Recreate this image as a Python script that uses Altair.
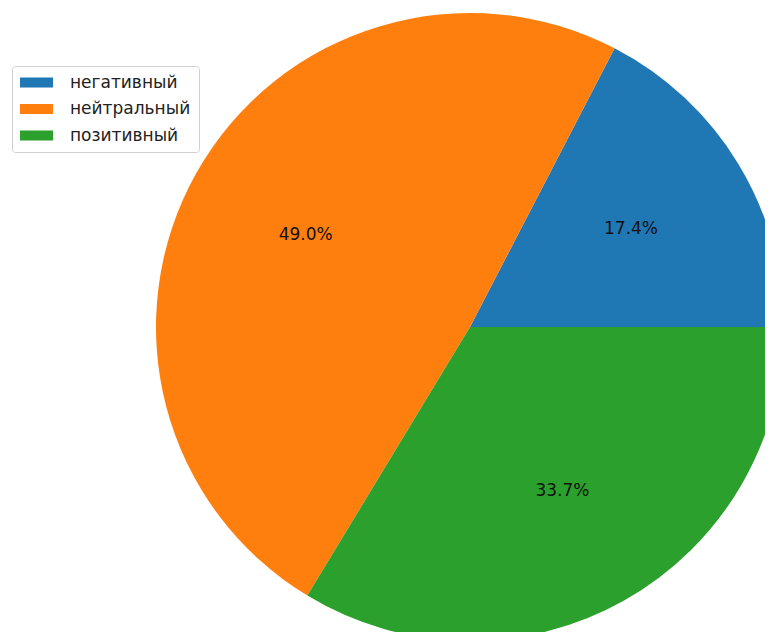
import math
import altair as alt
import pandas as pd

categories = ["негативный", "нейтральный", "позитивный"]
shares = [17.4, 49.0, 33.7]
labels = ["17.4%", "49.0%", "33.7%"]
colors = ["#1f77b4", "#ff7f0e", "#2ca02c"]
draw_order = [3, 2, 1]  # clockwise from 3 o'clock: green, orange, blue

df = pd.DataFrame({"cat": categories, "val": shares, "lab": labels, "ord": draw_order})

CX, CY, R = 462, 319, 314

theta = alt.Theta("val:Q", stack=True,
                  scale=alt.Scale(range=[math.pi / 2, math.pi / 2 + 2 * math.pi]))
color = alt.Color(
    "cat:N",
    scale=alt.Scale(domain=categories, range=colors),
    legend=alt.Legend(
        title=None, orient="none", legendX=4, legendY=58,
        symbolType="M-2,-0.6L2,-0.6L2,0.6L-2,0.6Z", symbolSize=272,
        symbolOffset=8, symbolStrokeWidth=0, symbolOpacity=1,
        labelFont="DejaVu Sans", labelFontSize=17, labelColor="#222222",
        labelOffset=25, rowPadding=8.5,
        padding=8, strokeColor="#d0d0d0", fillColor="white", cornerRadius=3,
    ),
)

base = alt.Chart(df).encode(theta=theta, order=alt.Order("ord:Q"))

pie = base.mark_arc(x=CX, y=CY, outerRadius=R, stroke=None).encode(color=color)
text = base.mark_text(x=CX, y=CY, radius=R * 0.6, font="DejaVu Sans",
                      fontSize=17, color="#111111").encode(text="lab:N")

chart = (pie + text).properties(
    width=757, height=624,
    autosize=alt.AutoSizeParams(type="none"),
    padding=0,
).configure_view(stroke=None)

chart.save("out.html", embed_options={"renderer": "svg", "actions": False})
